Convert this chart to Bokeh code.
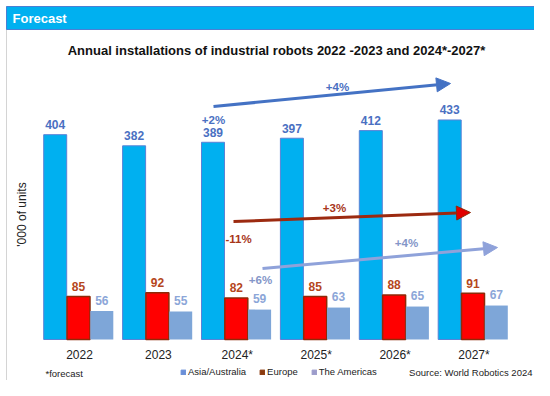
import math
from bokeh.plotting import figure
from bokeh.models import (ColumnDataSource, Arrow, NormalHead, Label, Range1d,
                          Legend, LegendItem)
from bokeh.transform import dodge
from bokeh.embed import file_html
from bokeh.resources import INLINE
from bokeh.core.properties import value

# ---------------- data ----------------
years = ["2022", "2023", "2024*", "2025*", "2026*", "2027*"]
asia = [404, 382, 389, 397, 412, 433]
europe = [85, 92, 82, 85, 88, 91]
americas = [56, 55, 59, 63, 65, 67]
series = ["Asia/Australia", "Europe", "The Americas"]
growth_asia = ["+2%", "+4%"]
growth_europe = ["-11%", "+3%"]
growth_americas = ["+6%", "+4%"]

# ---------------- layout helpers (canvas pixels -> data) ----------------
W, H = 534, 380
GX0, GDX = 78.0, 78.9      # canvas x of first group centre, px per group
BASE, PPU = 339.0, 0.507   # canvas y of zero line, px per unit


def dx(px):
    return (px - GX0) / GDX


def dy(py):
    return (BASE - py) / PPU


FONT = value("Liberation Sans")

p = figure(width=W, height=H, output_backend="svg", toolbar_location=None,
           x_range=Range1d(dx(0), dx(W)), y_range=Range1d(dy(H), dy(0)),
           x_axis_location=None, y_axis_location=None, min_border=0)
p.grid.visible = False
p.outline_line_color = None
p.background_fill_color = "white"
p.border_fill_color = "white"

src = ColumnDataSource(dict(
    x=list(range(len(years))), year=years,
    asia=asia, europe=europe, americas=americas,
    asia_l=[str(v) for v in asia], europe_l=[str(v) for v in europe],
    americas_l=[str(v) for v in americas],
))

off = 23.3 / GDX
bw = 23.0 / GDX

# outer frame
p.quad(left=dx(6), right=dx(545), top=dy(6), bottom=dy(390),
       fill_color=None, line_color="#D4D4D4", line_width=1)

# header bar
p.quad(left=dx(6), right=dx(545), top=dy(6), bottom=dy(29),
       fill_color="#00B0F0", line_color="#4A7FD4", line_width=1)
p.add_layout(Label(x=dx(12), y=dy(17.5), text="Forecast", text_color="white",
                   text_font="Liberation Sans", text_font_style="bold",
                   text_font_size="13px", text_baseline="middle"))

# title
p.add_layout(Label(x=dx(276), y=dy(50),
                   text="Annual installations of industrial robots 2022 -2023 and 2024*-2027*",
                   text_color="#111111", text_font="Liberation Sans",
                   text_font_style="bold", text_font_size="13px",
                   text_align="center", text_baseline="middle"))

# y axis label
p.add_layout(Label(x=dx(21), y=dy(214), text="'000 of units", angle=math.pi / 2,
                   text_color="#222222", text_font="Liberation Sans",
                   text_font_size="12px", text_align="center",
                   text_baseline="middle"))

# bars
p.vbar(x=dodge("x", -off, range=p.x_range), top="asia", bottom=0, width=bw,
       source=src, fill_color="#00B0F0", line_color="#5A82D6", line_width=1)
p.vbar(x="x", top="europe", bottom=0, width=bw, source=src,
       fill_color="#FF0000", line_color="#8E2A08", line_width=1.5)
p.vbar(x=dodge("x", off, range=p.x_range), top="americas", bottom=0, width=bw,
       source=src, fill_color="#7EA6D8", line_color=None)

# value labels
lab_kw = dict(text_font=FONT, text_font_style="bold", text_font_size="12px",
              text_align="center", text_baseline="middle", source=src)
p.text(x=dodge("x", -off, range=p.x_range), y="asia", text="asia_l",
       y_offset=-10, text_color="#4A70C2", **lab_kw)
p.text(x="x", y="europe", text="europe_l", y_offset=-10,
       text_color="#B5461C", **lab_kw)
p.text(x=dodge("x", off, range=p.x_range), y="americas", text="americas_l",
       y_offset=-11, text_color="#8CA6D8", **lab_kw)

# year labels
p.text(x="x", y=0, text="year", y_offset=15, x_offset=1, source=src,
       text_font=FONT, text_font_size="12px", text_color="#222222",
       text_align="center", text_baseline="middle")


# growth arrows
def arrow(x0, y0, x1, y1, color, head_color, head_line):
    p.add_layout(Arrow(x_start=dx(x0), y_start=dy(y0), x_end=dx(x1), y_end=dy(y1),
                       line_color=color, line_width=3,
                       end=NormalHead(size=14, fill_color=head_color,
                                      line_color=head_line, line_width=1)))


arrow(213, 106, 450, 83, "#4472C4", "#4472C4", "#4472C4")
arrow(233, 221, 470, 212, "#9C2A10", "#E00000", "#8E2A08")
arrow(262, 268, 497, 247, "#8FA2DA", "#8FA2DA", "#8FA2DA")


def pct(x, y, text, color):
    p.add_layout(Label(x=dx(x), y=dy(y), text=text, text_color=color,
                       text_font="Liberation Sans", text_font_style="bold",
                       text_font_size="11.5px", text_align="center",
                       text_baseline="middle"))


pct(213, 119, growth_asia[0], "#4A70C2")
pct(337, 86, growth_asia[1], "#4A70C2")
pct(238, 238, growth_europe[0], "#A8361A")
pct(334, 207, growth_europe[1], "#A8361A")
pct(260, 279, growth_americas[0], "#8496C8")
pct(406, 242, growth_americas[1], "#8496C8")

# legend (marker colours as in the original); the swatch renderers hold a
# degenerate quad placed outside the visible area so only the legend shows them
leg_colors = ["#6A8FD8", "#8B3A0E", "#9C9CCB"]
hid = dy(H + 500)
rs = [p.quad(left=[hid], right=[hid], top=[hid], bottom=[hid],
             fill_color=c, line_color=c)
      for c in leg_colors]
legend = Legend(items=[LegendItem(label=s, renderers=[r]) for s, r in zip(series, rs)],
                orientation="horizontal", location=(180, 3),
                padding=0, margin=0, spacing=13, label_standoff=2,
                glyph_width=6, glyph_height=6, label_height=10,
                label_text_font="Liberation Sans", label_text_font_size="9.5px",
                label_text_color="#222222", background_fill_alpha=0,
                border_line_color=None)
p.add_layout(legend)

p.add_layout(Label(x=dx(45), y=dy(372.5), text="*forecast", text_color="#222222",
                   text_font="Liberation Sans", text_font_size="9.5px",
                   text_baseline="middle"))
p.add_layout(Label(x=dx(532), y=dy(372), text="Source: World Robotics 2024",
                   text_color="#222222", text_font="Liberation Sans",
                   text_font_size="9.5px", text_align="right",
                   text_baseline="middle"))

open("out.html", "w").write(file_html(p, INLINE))
